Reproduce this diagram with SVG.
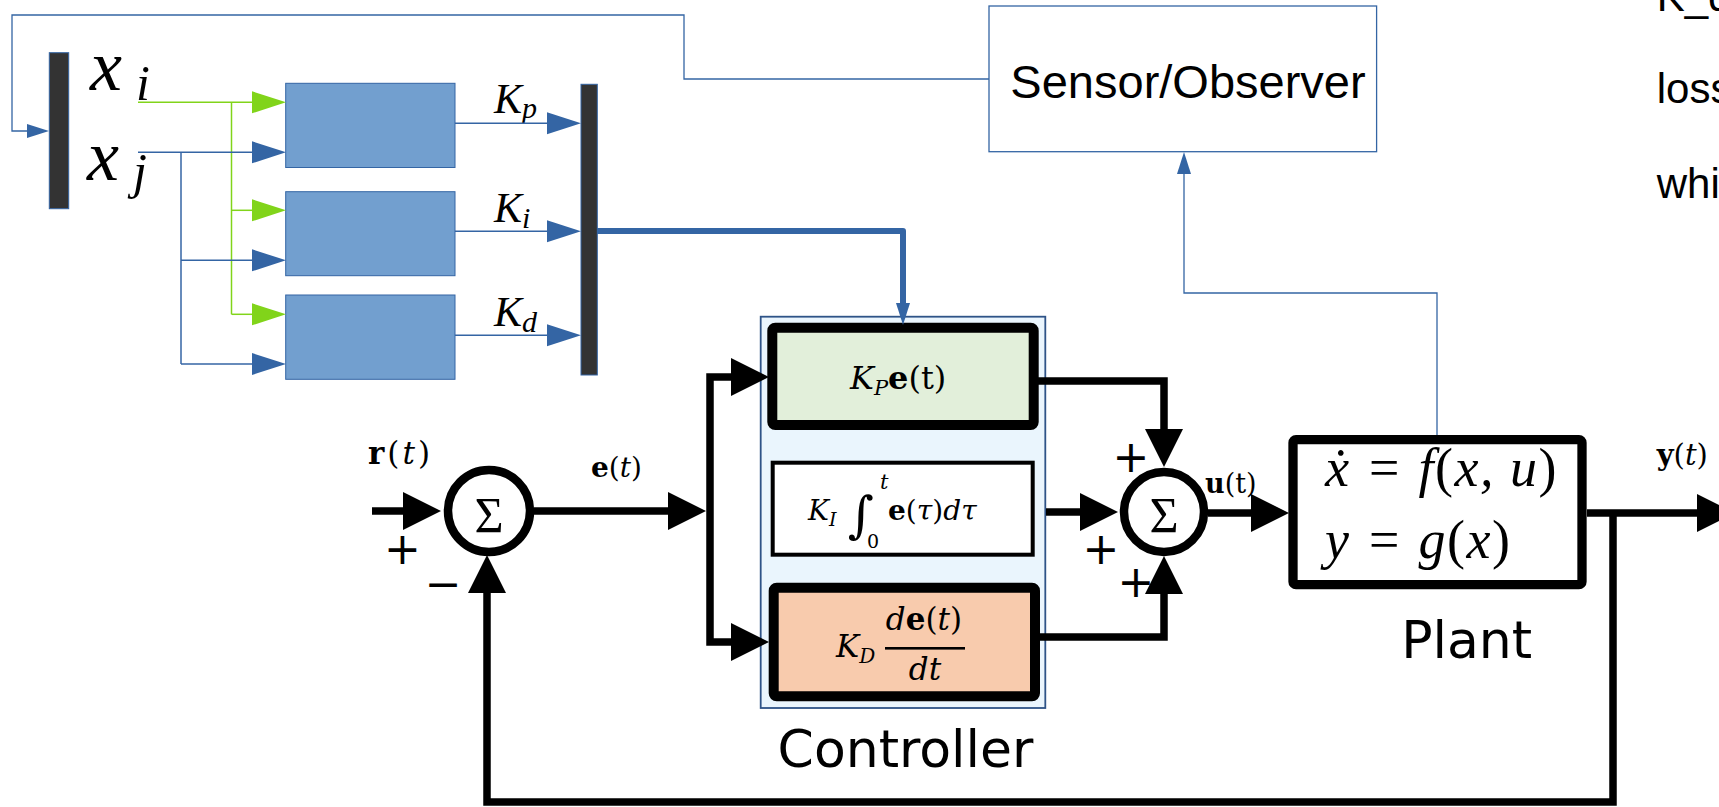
<svg xmlns="http://www.w3.org/2000/svg" width="1719" height="807" viewBox="0 0 1719 807">
<style>
 .thin{fill:none;stroke:#3465a4;stroke-width:1.3}
 .grn{fill:none;stroke:#81d41a;stroke-width:1.5}
 .blu{fill:none;stroke:#3465a4;stroke-width:1.5}
 .thick{fill:none;stroke:#3465a4;stroke-width:6;stroke-linejoin:round}
 .blk{fill:none;stroke:#000;stroke-width:7.5}
 .bar{fill:#333;stroke:#3465a4;stroke-width:1}
 .gbox{fill:#729fcf;stroke:#3465a4;stroke-width:1}
 .sans{font-family:"Liberation Sans",Arial,sans-serif}
 .dv{font-family:"DejaVu Sans",sans-serif}
 .math{font-family:"Liberation Serif","DejaVu Serif",serif;font-style:italic}
 .cm{font-family:"DejaVu Serif",serif}
 .it{font-style:italic}
 .b{font-weight:bold}
 .sign{font-family:"DejaVu Sans",sans-serif;font-size:44px;text-anchor:middle}
 .sig{font-family:"Liberation Serif",serif;font-size:50px;text-anchor:middle}
</style>
<defs>
 <marker id="ab" markerUnits="userSpaceOnUse" markerWidth="38" markerHeight="40" viewBox="0 0 38 40" refX="0" refY="20" orient="auto" overflow="visible"><path d="M0,1 L38,20 L0,39 z" fill="#000"/></marker>
 <marker id="ag" markerUnits="userSpaceOnUse" markerWidth="34" markerHeight="22" viewBox="0 0 34 22" refX="0" refY="11" orient="auto" overflow="visible"><path d="M0,0 L34,11 L0,22 z" fill="#81d41a"/></marker>
 <marker id="abl" markerUnits="userSpaceOnUse" markerWidth="34" markerHeight="22" viewBox="0 0 34 22" refX="0" refY="11" orient="auto" overflow="visible"><path d="M0,0 L34,11 L0,22 z" fill="#3465a4"/></marker>
 <marker id="as" markerUnits="userSpaceOnUse" markerWidth="22" markerHeight="14" viewBox="0 0 22 14" refX="0" refY="7" orient="auto" overflow="visible"><path d="M0,0 L22,7 L0,14 z" fill="#3465a4"/></marker>
</defs>
<rect width="1719" height="807" fill="#fff"/>

<g id="controller-group">
 <rect x="760.7" y="316.7" width="284.6" height="391.3" fill="#eaf5fd" stroke="#2e5387" stroke-width="1.8"/>
 <text class="dv" x="905.5" y="766.7" font-size="52" text-anchor="middle">Controller</text>
</g>

<g id="bar-left"><rect class="bar" x="49.3" y="52.7" width="19.4" height="156"/></g>
<g id="bar-right"><rect class="bar" x="581" y="84.3" width="16.3" height="290.7"/></g>

<g id="labels-x">
 <text class="math" x="90" y="90" font-size="72">x<tspan x="136" y="100" font-size="50">i</tspan></text>
 <text class="math" x="87" y="180" font-size="72">x<tspan x="133" y="188" font-size="50">j</tspan></text>
</g>

<g id="nn1"><rect class="gbox" x="285.7" y="83.3" width="169.3" height="84.2"/></g>
<g id="nn2"><rect class="gbox" x="285.7" y="191.7" width="169.3" height="84"/></g>
<g id="nn3"><rect class="gbox" x="285.7" y="295" width="169.3" height="84.3"/></g>

<g id="gain-labels">
 <text class="math" x="494" y="113" font-size="42">K<tspan font-size="30" dy="5">p</tspan></text>
 <text class="math" x="494" y="221.5" font-size="42">K<tspan font-size="30" dy="6">i</tspan></text>
 <text class="math" x="494" y="325.5" font-size="42">K<tspan font-size="30" dy="6">d</tspan></text>
</g>

<g id="sensor">
 <rect x="989" y="6" width="387.6" height="145.7" fill="#fff" stroke="#3465a4" stroke-width="1.3"/>
 <text class="sans" x="1188" y="98" font-size="47" text-anchor="middle">Sensor/Observer</text>
</g>

<g id="side-text" class="sans" font-size="42">
 <text x="1656.7" y="11">K_d</text>
 <text x="1656.7" y="103">loss</text>
 <text x="1656.7" y="198">whi</text>
</g>

<g id="kp">
 <rect x="772.3" y="327.7" width="261.4" height="97.3" rx="3" fill="#e2efda" stroke="#000" stroke-width="10"/>
 <text class="cm" x="850" y="389" font-size="32"><tspan class="it">K</tspan><tspan class="it" font-size="21" dy="6">P</tspan><tspan class="b" dy="-6">e</tspan>(t)</text>
</g>

<g id="ki">
 <rect x="772.7" y="462.7" width="260" height="92" fill="#fff" stroke="#000" stroke-width="4"/>
 <text class="cm" x="808" y="520" font-size="28"><tspan class="it">K</tspan><tspan class="it" font-size="19" dy="6">I</tspan><tspan x="848" y="532" font-size="50">∫</tspan><tspan class="it" x="880" y="489" font-size="21">t</tspan><tspan x="867" y="548" font-size="19">0</tspan><tspan x="888" y="520"><tspan class="b">e</tspan>(<tspan class="it">τ</tspan>)<tspan class="it">dτ</tspan></tspan></text>
</g>

<g id="kd">
 <rect x="773.7" y="587.7" width="261.3" height="108.6" rx="3" fill="#f8cbad" stroke="#000" stroke-width="10"/>
 <text class="cm" x="836" y="657" font-size="31"><tspan class="it">K</tspan><tspan class="it" font-size="20" dy="6">D</tspan></text>
 <text class="cm" x="924" y="630" font-size="31" text-anchor="middle"><tspan class="it">d</tspan><tspan class="b">e</tspan>(<tspan class="it">t</tspan>)</text>
 <rect x="885" y="647" width="80" height="2.6" fill="#000"/>
 <text class="cm it" x="925" y="680" font-size="31" text-anchor="middle">dt</text>
</g>

<g id="sum1">
 <circle cx="489" cy="511" r="41" fill="#fff" stroke="#000" stroke-width="8.5"/>
 <text class="sig" x="489" y="532">Σ</text>
 <text class="sign" x="402.5" y="564">+</text>
 <text class="sign" x="443.3" y="599">−</text>
</g>

<g id="sum2">
 <circle cx="1164" cy="512" r="40" fill="#fff" stroke="#000" stroke-width="8.5"/>
 <text class="sig" x="1164" y="532">Σ</text>
 <text class="sign" x="1131" y="472">+</text>
 <text class="sign" x="1101" y="564">+</text>
 <text class="sign" x="1136" y="597">+</text>
</g>

<g id="plant">
 <rect x="1293" y="439.7" width="289" height="145" rx="3" fill="#fff" stroke="#000" stroke-width="9.3"/>
 <text class="math" x="1325" y="486" font-size="54" letter-spacing="1.5" xml:space="preserve">ẋ = <tspan>f</tspan><tspan font-style="normal">(</tspan>x, u<tspan font-style="normal">)</tspan></text>
 <text class="math" x="1325" y="558" font-size="54" letter-spacing="1.5" xml:space="preserve">y = g<tspan font-style="normal">(</tspan>x<tspan font-style="normal">)</tspan></text>
 <text class="dv" x="1466.7" y="658.3" font-size="52" text-anchor="middle">Plant</text>
</g>

<g id="signal-labels" class="cm">
 <text x="368" y="464" font-size="31" letter-spacing="3"><tspan class="b">r</tspan>(<tspan class="it">t</tspan>)</text>
 <text x="591" y="477" font-size="28"><tspan class="b">e</tspan>(<tspan class="it">t</tspan>)</text>
 <text x="1205" y="493" font-size="27"><tspan class="b">u</tspan>(t)</text>
 <text x="1656.7" y="465" font-size="29"><tspan class="b">y</tspan>(<tspan class="it">t</tspan>)</text>
</g>

<g id="connectors">
 <path class="thin" d="M989,79 H684 V15 H12 V131 H27" marker-end="url(#as)"/>
 <path class="thin" d="M1437,435 V293 H1184 V174" marker-end="url(#as)"/>
 <path class="grn" d="M138,102.3 H252" marker-end="url(#ag)"/>
 <path class="grn" d="M231.5,102.3 V314.3"/>
 <path class="grn" d="M231.5,210.3 H252" marker-end="url(#ag)"/>
 <path class="grn" d="M231.5,314.3 H252" marker-end="url(#ag)"/>
 <path class="blu" d="M138,152.3 H252" marker-end="url(#abl)"/>
 <path class="blu" d="M181,152.3 V364"/>
 <path class="blu" d="M181,260.3 H252" marker-end="url(#abl)"/>
 <path class="blu" d="M181,364 H252" marker-end="url(#abl)"/>
 <path class="blu" d="M455,123.3 H547" marker-end="url(#abl)"/>
 <path class="blu" d="M455,231.3 H547" marker-end="url(#abl)"/>
 <path class="blu" d="M455,335.3 H547" marker-end="url(#abl)"/>
 <path class="thick" d="M597,231 H903 V303" marker-end="url(#as)"/>
 <path class="blk" d="M372,511 H403" marker-end="url(#ab)"/>
 <path class="blk" d="M534,511 H668" marker-end="url(#ab)"/>
 <path class="blk" d="M710,511 V377 H731" marker-end="url(#ab)"/>
 <path class="blk" d="M710,511 V642 H731" marker-end="url(#ab)"/>
 <path class="blk" d="M1038,381 H1164 V429" marker-end="url(#ab)"/>
 <path class="blk" d="M1046,512 H1080" marker-end="url(#ab)"/>
 <path class="blk" d="M1040,637 H1164 V594" marker-end="url(#ab)"/>
 <path class="blk" d="M1208,513 H1251" marker-end="url(#ab)"/>
 <path class="blk" d="M1587,513 H1697" marker-end="url(#ab)"/>
 <path class="blk" d="M1613,513 V802 H487 V593" marker-end="url(#ab)"/>
</g>
</svg>
